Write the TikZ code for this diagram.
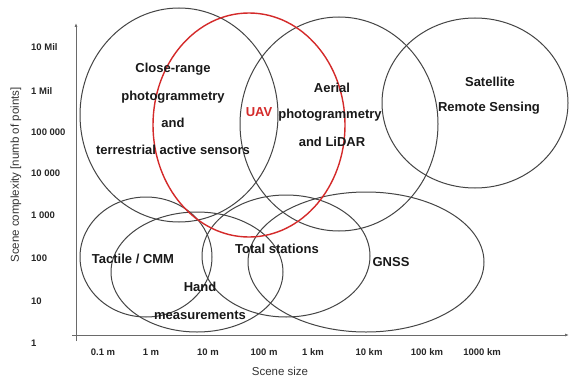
\documentclass[tikz,border=0pt]{standalone}
\usepackage{fontspec}
\setmainfont{Liberation Sans}
\usetikzlibrary{arrows.meta}
\definecolor{ringgray}{HTML}{454545}
\definecolor{uavred}{HTML}{D42A2A}
\definecolor{axisgray}{HTML}{6A6A6A}
\begin{document}
\begin{tikzpicture}[x=1pt,y=-1pt,
  ring/.style={draw=ringgray,line width=1pt},
  redring/.style={draw=uavred,line width=1.4pt},
  lbl/.style={font=\bfseries\fontsize{13}{16}\selectfont,text=black!90,inner sep=0pt,align=center},
  tick/.style={font=\bfseries\fontsize{9.5}{11}\selectfont,text=black!85,inner sep=0pt},
  axtitle/.style={font=\fontsize{11.5}{13}\selectfont,text=black!80,inner sep=0pt},
  axisline/.style={draw=axisgray,line width=0.9pt}]
\useasboundingbox (0,0) rectangle (569,377);
\fill[white] (0,0) rectangle (569,377);
% axes
\coordinate (yb) at (76,341);
\coordinate (yt) at (76,23);
\coordinate (xl) at (72,335);
\coordinate (xr) at (569,335);
\draw[axisline,-{Latex[length=4pt,width=3pt]}] (yb) -- (yt);
\draw[axisline,-{Latex[length=4pt,width=3pt]}] (xl) -- (xr);
% ellipses
\draw[ring] (179,115) ellipse [x radius=99pt, y radius=107pt];
\draw[ring] (339,124) ellipse [x radius=99pt, y radius=107pt];
\draw[ring] (475,103) ellipse [x radius=93pt, y radius=85pt];
\draw[ring] (146,257) ellipse [x radius=66pt, y radius=60pt];
\draw[ring] (197,272) ellipse [x radius=86pt, y radius=60pt];
\draw[ring] (286,256) ellipse [x radius=84pt, y radius=61pt];
\draw[ring] (366,262) ellipse [x radius=118pt, y radius=70pt];
\draw[redring] (249,125) ellipse [x radius=96pt, y radius=112pt];
% ellipse labels
\node[lbl] (cr1) at (173,69) {Close-range};
\node[lbl] (cr2) at (173,97) {photogrammetry};
\node[lbl] (cr3) at (173,123) {and};
\node[lbl] (cr4) at (173,150) {terrestrial active sensors};
\node[lbl,text=uavred] (uav) at (259,112) {UAV};
\node[lbl] (ae1) at (332,88) {Aerial};
\node[lbl] (ae2) at (330,115) {photogrammetry};
\node[lbl] (ae3) at (332,142) {and LiDAR};
\node[lbl] (sa1) at (490,82) {Satellite};
\node[lbl] (sa2) at (489,108) {Remote Sensing};
\node[lbl] (tac) at (133,259) {Tactile / CMM};
\node[lbl] (ha1) at (200,287) {Hand};
\node[lbl] (ha2) at (200,315) {measurements};
\node[lbl] (tot) at (277,249) {Total stations};
\node[lbl] (gnss) at (391,262) {GNSS};
% y tick labels
\node[tick,anchor=west] (y1) at (31,47) {10 Mil};
\node[tick,anchor=west] (y2) at (31,91) {1 Mil};
\node[tick,anchor=west] (y3) at (31,132) {100 000};
\node[tick,anchor=west] (y4) at (31,173) {10 000};
\node[tick,anchor=west] (y5) at (31,215) {1 000};
\node[tick,anchor=west] (y6) at (31,258) {100};
\node[tick,anchor=west] (y7) at (31,301) {10};
\node[tick,anchor=west] (y8) at (31,343) {1};
% x tick labels
\node[tick] (x1) at (103,352) {0.1 m};
\node[tick] (x2) at (151,352) {1 m};
\node[tick] (x3) at (208,352) {10 m};
\node[tick] (x4) at (264,352) {100 m};
\node[tick] (x5) at (313,352) {1 km};
\node[tick] (x6) at (369,352) {10 km};
\node[tick] (x7) at (427,352) {100 km};
\node[tick] (x8) at (482,352) {1000 km};
% axis titles
\node[axtitle] (xt) at (280,371) {Scene size};
\node[axtitle,rotate=90] (yt2) at (16,175) {Scene complexity [numb of points]};
\end{tikzpicture}
\end{document}
